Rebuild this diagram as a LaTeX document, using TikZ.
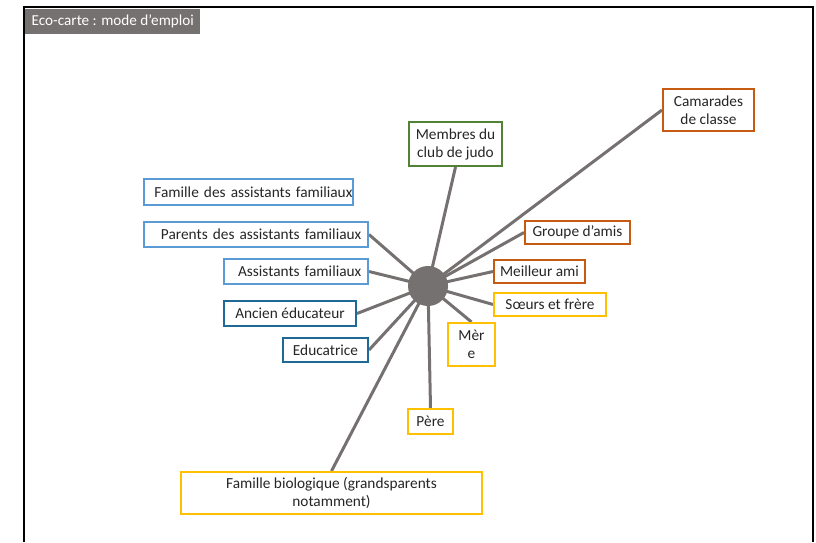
\documentclass[tikz,border=0pt]{standalone}
\usepackage{fontspec}
\setmainfont{Carlito}
\usetikzlibrary{backgrounds}
\definecolor{cgray}{RGB}{118,113,113}
\definecolor{lblue}{RGB}{91,155,213}
\definecolor{dblue}{RGB}{31,105,150}
\definecolor{corange}{RGB}{197,90,17}
\definecolor{cyellow}{RGB}{255,192,0}
\definecolor{cgreen}{RGB}{84,130,53}
\tikzset{
  bx/.style={draw=#1, line width=1.5pt, fill=white, inner sep=0pt, rectangle,
    font=\fontsize{11.5}{13.5}\selectfont, text=black!85},
  link/.style={draw=cgray, line width=2.25pt},
  titlebox/.style={fill=cgray, inner sep=0pt, text=white, font=\fontsize{11.4}{13}\selectfont,
    minimum width=131.25pt, minimum height=18.75pt},
  hub/.style={circle, fill=cgray, inner sep=0pt, minimum size=30pt},
}
\begin{document}
\begin{tikzpicture}[x=0.75pt,y=-0.75pt]
\useasboundingbox (0,0) rectangle (816,542);
% frame
\draw[line width=1.3pt, black] (24,542) -- (24,7) -- (813,7) -- (813,542);
\node[titlebox, anchor=north west] (title) at (25,9) {Eco-carte : mode d’emploi};

% hub
\node[hub] (c) at (428,286) {};

% boxes
\node[bx=lblue, minimum width=156.75pt, minimum height=19.5pt, text width=156pt, align=right] (fass) at (248.5,192) {Famille des assistants familiaux};
\node[bx=lblue, minimum width=168pt, minimum height=18.75pt, text width=158pt, align=right] (pass) at (256,234.5) {Parents des assistants familiaux};
\node[bx=lblue, minimum width=108pt, minimum height=18.75pt, text width=98pt, align=right] (ass) at (296,271.5) {Assistants familiaux};
\node[bx=dblue, minimum width=99pt, minimum height=18.75pt] (anc) at (290,313.5) {Ancien éducateur};
\node[bx=dblue, minimum width=63.75pt, minimum height=18pt] (edu) at (325.5,350) {Educatrice};
\node[bx=corange, minimum width=78.75pt, minimum height=17.25pt] (grp) at (577.5,232.5) {Groupe d’amis};
\node[bx=corange, minimum width=68.25pt, minimum height=17.25pt] (mei) at (539.5,271.5) {Meilleur ami};
\node[bx=cyellow, minimum width=84pt, minimum height=17.25pt] (soe) at (550,304.5) {Sœurs et frère};
\node[bx=cyellow, minimum width=35.25pt, minimum height=32.25pt, align=center] (mer) at (471.5,344.5) {Mèr\\e};
\node[bx=cyellow, minimum width=33.75pt, minimum height=18.75pt] (per) at (430.5,421.5) {Père};
\node[bx=cyellow, minimum width=225.75pt, minimum height=31.5pt, align=center] (bio) at (331.5,493) {Famille biologique (grandsparents\\notamment)};
\node[bx=cgreen, minimum width=69.75pt, minimum height=33pt, align=center] (judo) at (455.5,144) {Membres du\\club de judo};
\node[bx=corange, minimum width=68.25pt, minimum height=31.5pt, align=center] (cam) at (708.5,110) {Camarades\\de classe};

% connectors
\begin{scope}[on background layer]
\draw[link] (c.center) -- (pass.east);
\draw[link] (c.center) -- (ass.east);
\draw[link] (c.center) -- (anc.east);
\draw[link] (c.center) -- (edu.east);
\draw[link] (c.center) -- (bio.north);
\draw[link] (c.center) -- (per.north);
\draw[link] (c.center) -- (mer.north);
\draw[link] (c.center) -- (soe.west);
\draw[link] (c.center) -- (mei.west);
\draw[link] (c.center) -- (grp.west);
\draw[link] (c.center) -- (cam.west);
\draw[link] (c.center) -- (judo.south);
\end{scope}
\end{tikzpicture}
\end{document}
